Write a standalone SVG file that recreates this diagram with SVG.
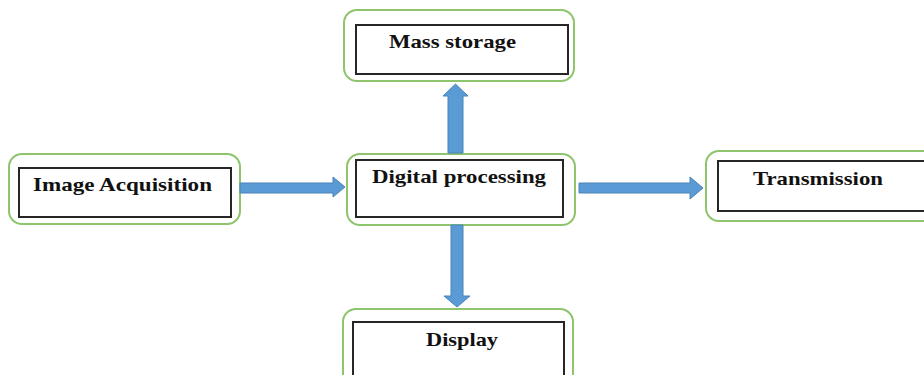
<svg xmlns="http://www.w3.org/2000/svg" width="924" height="375" viewBox="0 0 924 375">
<style>
.outer{fill:#fff;stroke:#8dc46c;stroke-width:2}
.inner{fill:#fff;stroke:#262626;stroke-width:2}
.lbl{font-family:"Liberation Serif","Times New Roman",serif;font-weight:bold;font-size:19px;fill:#111}
.arr{fill:#5b9bd5;stroke:#4a83b8;stroke-width:1}
</style>
<rect width="924" height="375" fill="#fff"/>
<g id="mass-storage">
<rect class="outer" x="344" y="10" width="230" height="71" rx="13"/>
<rect class="inner" x="356" y="25" width="212" height="49"/>
<text class="lbl" x="389" y="48" textLength="127" lengthAdjust="spacingAndGlyphs">Mass storage</text>
</g>
<g id="image-acquisition">
<rect class="outer" x="9" y="154" width="231" height="70" rx="13"/>
<rect class="inner" x="19" y="168" width="212" height="49"/>
<text class="lbl" x="33" y="191" textLength="179" lengthAdjust="spacingAndGlyphs">Image Acquisition</text>
</g>
<g id="digital-processing">
<rect class="outer" x="347" y="154" width="228" height="71" rx="13"/>
<rect class="inner" x="356" y="160" width="207" height="57"/>
<text class="lbl" x="372" y="183" textLength="174" lengthAdjust="spacingAndGlyphs">Digital processing</text>
</g>
<g id="transmission">
<rect class="outer" x="706" y="151" width="240" height="70" rx="13"/>
<rect class="inner" x="718" y="161" width="220" height="50"/>
<text class="lbl" x="753" y="185" textLength="130" lengthAdjust="spacingAndGlyphs">Transmission</text>
</g>
<g id="display">
<rect class="outer" x="343" y="309" width="230" height="80" rx="13"/>
<rect class="inner" x="353" y="322" width="211" height="60"/>
<text class="lbl" x="426" y="346" textLength="72" lengthAdjust="spacingAndGlyphs">Display</text>
</g>
<g id="connectors">
<polygon class="arr" points="240,183 333,183 333,177 345,187 333,197 333,193 240,193"/>
<polygon class="arr" points="579,183 690,183 690,177 703,188 690,199 690,193 579,193"/>
<polygon class="arr" points="448,153 448,96 443,96 455.5,84 468,96 463,96 463,153"/>
<polygon class="arr" points="451,225 463,225 463,296 470,296 457,307 444,296 451,296"/>
</g>
</svg>
